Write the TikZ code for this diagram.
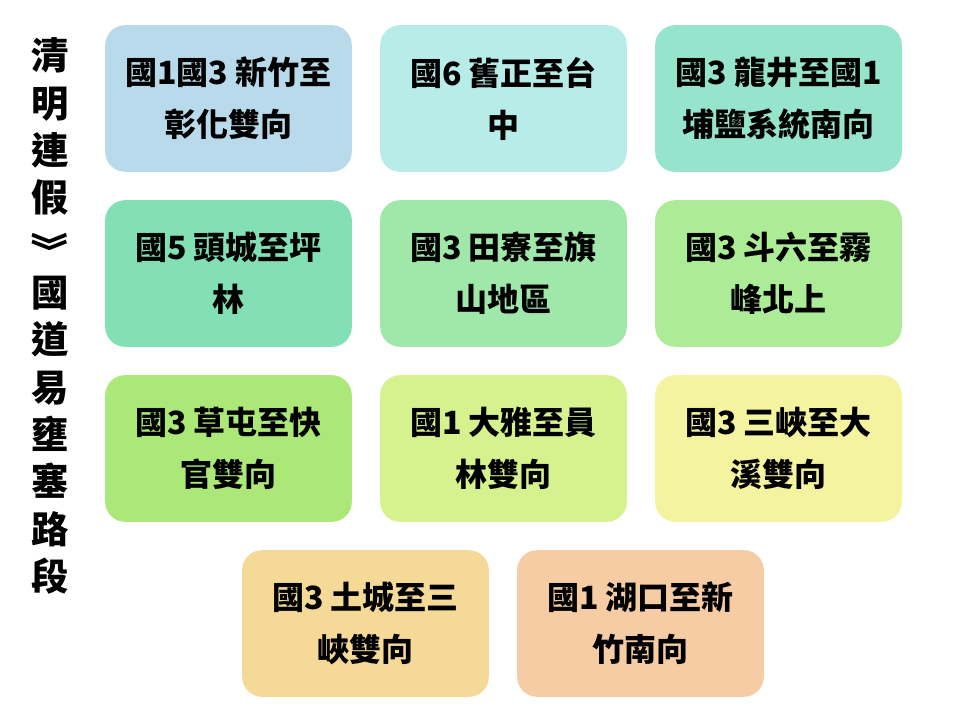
\documentclass[tikz,border=0pt]{standalone}
\usepackage{fontspec}
\usepackage{graphicx}
\setmainfont{Noto Sans CJK TC}
\usetikzlibrary{positioning}
\definecolor{c11}{RGB}{184,218,234}
\definecolor{c12}{RGB}{184,236,232}
\definecolor{c13}{RGB}{150,228,204}
\definecolor{c21}{RGB}{130,224,180}
\definecolor{c22}{RGB}{160,232,170}
\definecolor{c23}{RGB}{172,236,150}
\definecolor{c31}{RGB}{172,232,120}
\definecolor{c32}{RGB}{214,242,142}
\definecolor{c33}{RGB}{244,244,160}
\definecolor{c41}{RGB}{244,218,150}
\definecolor{c42}{RGB}{246,204,164}
\tikzset{box/.style={rectangle, rounded corners=15pt, minimum width=185pt, minimum height=110pt, align=center, font=\fontsize{24}{39}\selectfont\bfseries}}
\begin{document}
\begin{tikzpicture}[x=0.75pt, y=-0.75pt]
    \useasboundingbox (0,0) rectangle (960,720);
    % title
    \node(title) at (50,316) [align=center, font=\fontsize{28}{35.5}\selectfont\bfseries] {清\\明\\連\\假\\\raisebox{20pt}[24pt][0pt]{\rotatebox{-90}{》}}\\國\\道\\易\\壅\\塞\\路\\段};
    % row 1
    \node(b11) at (228.5,98.5) [box, fill=c11] {國1國3 新竹至\\彰化雙向};
    \node(b12) at (503.5,98.5) [box, fill=c12] {國6 舊正至台\\中};
    \node(b13) at (778.5,98.5) [box, fill=c13] {國3 龍井至國1\\埔鹽系統南向};
    % row 2
    \node(b21) at (228.5,273.5) [box, fill=c21] {國5 頭城至坪\\林};
    \node(b22) at (503.5,273.5) [box, fill=c22] {國3 田寮至旗\\山地區};
    \node(b23) at (778.5,273.5) [box, fill=c23] {國3 斗六至霧\\峰北上};
    % row 3
    \node(b31) at (228.5,448.5) [box, fill=c31] {國3 草屯至快\\官雙向};
    \node(b32) at (503.5,448.5) [box, fill=c32] {國1 大雅至員\\林雙向};
    \node(b33) at (778.5,448.5) [box, fill=c33] {國3 三峽至大\\溪雙向};
    % row 4
    \node(b41) at (365.5,623.5) [box, fill=c41] {國3 土城至三\\峽雙向};
    \node(b42) at (640.5,623.5) [box, fill=c42] {國1 湖口至新\\竹南向};
\end{tikzpicture}
\end{document}
